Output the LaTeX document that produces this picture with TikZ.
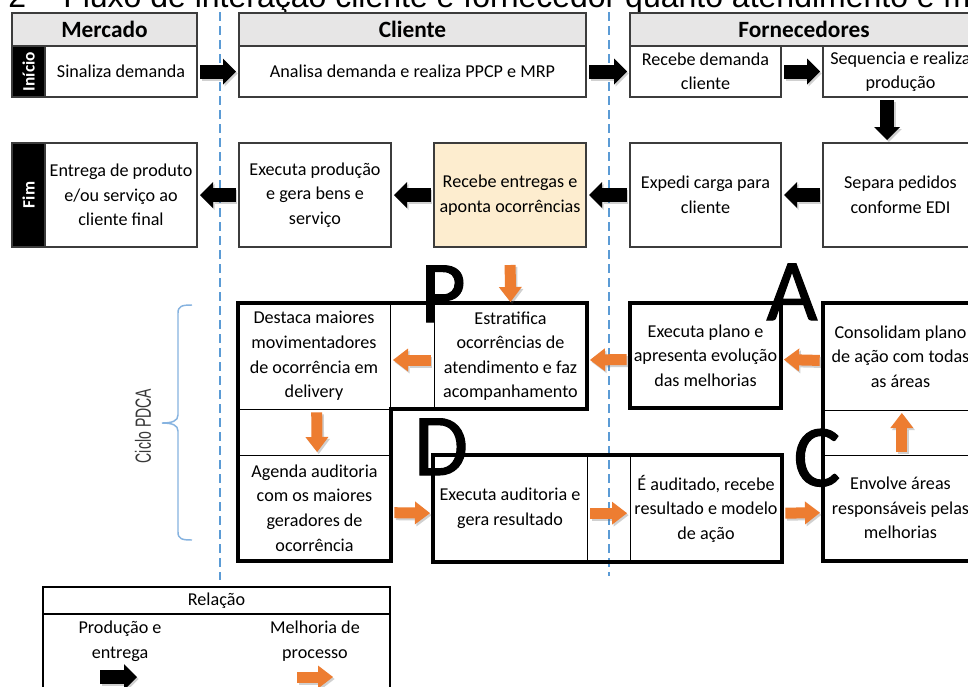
\documentclass[tikz,border=0pt]{standalone}
\usepackage{fontspec}
\setmainfont{Carlito}
\newfontfamily\arialfont{Liberation Sans}
\newfontfamily\bigfont[FakeBold=1.2]{Carlito}
\usetikzlibrary{arrows.meta}
\definecolor{hdrgray}{HTML}{E7E6E6}
\definecolor{paleyel}{HTML}{FDEDCF}
\definecolor{orng}{HTML}{ED7D31}
\definecolor{lblue}{HTML}{5B9BD5}
\definecolor{brblue}{HTML}{86B3E0}
\definecolor{edgegray}{HTML}{3C3C3C}
\newcommand\bodyfont{\fontsize{13.6}{18.4}\selectfont}
\newcommand\bx[7][]{\node[box,#1,minimum width={(#5-#3)*0.75pt},minimum height={(#6-#4)*0.75pt}] (#2) at ({(#3+#5)/2},{(#4+#6)/2}) {#7};}
\newcommand\arr[3]{\draw[#1,shd] #2 -- #3; \draw[#1] #2 -- #3;}
\begin{document}
\begin{tikzpicture}[x=0.75pt,y=-0.75pt,
  box/.style={draw=edgegray, line width=0.9pt, inner sep=0pt, outer sep=0pt, align=center, font=\bodyfont},
  hdr/.style={fill=hdrgray, font=\fontsize{17.5}{20}\selectfont\bfseries},
  thk/.style={draw=black, line width=2.4pt, line join=miter},
  blk/.style={draw=black, line width=10.5pt, -{Triangle[length=9.75pt,width=19.5pt,line width=0pt]}, shorten <=2.5pt, shorten >=2.25pt},
  oarr/.style={draw=orng, line width=8.25pt, -{Triangle[length=11.25pt,width=17.25pt,line width=0pt]}, shorten <=2.5pt, shorten >=2.25pt},
  shd/.style={draw=black!60, opacity=0.3, transform canvas={shift={(1.2pt,-1.5pt)}}},
  dline/.style={draw=lblue, line width=1.5pt, dash pattern=on 6.75pt off 3.75pt},
  big/.style={font=\bigfont\fontsize{66}{66}\selectfont, inner sep=0pt, anchor=base, text height=31pt, text depth=0pt},
  vlab/.style={rotate=90, text=white, font=\fontsize{13}{14}\selectfont\bfseries, inner sep=0pt},
]
\useasboundingbox (0,0) rectangle (968,686);
\clip (0,0) rectangle (968,686);
\fill[white] (0,0) rectangle (968,686);

% title (cut at top)
\node[anchor=base west, inner sep=0pt, font=\arialfont\fontsize{24}{24}\selectfont] (tnum) at (8,7) {2};
\node[anchor=base west, inner sep=0pt, font=\arialfont\fontsize{24}{24}\selectfont] (ttl) at (63,7) {Fluxo de interação cliente e fornecedor quanto atendimento e m};

% lane separators
\draw[dline] (220,12) -- (220,580);
\draw[dline] (609,12) -- (609,576);

% row 1
\bx[hdr]{hm}{12}{13}{197}{46}{Mercado}
\bx[fill=black]{ini}{12}{46}{45}{97}{}
\node[vlab] (inil) at (ini) {Início};
\bx{sin}{45}{46}{197}{97}{Sinaliza demanda}
\bx[hdr]{hc}{239}{13}{586}{46}{Cliente}
\bx{ana}{239}{46}{586}{97}{Analisa demanda e realiza PPCP e MRP}
\bx[hdr]{hf}{630}{13}{978}{46}{Fornecedores}
\bx{rdc}{630}{46}{781}{97}{Recebe demanda\\cliente}
\bx{seq}{823}{46}{978}{97}{Sequencia e realiza\\produção}

% row 2
\bx[fill=black]{fim}{12}{143}{45}{247}{}
\node[vlab] (fiml) at (fim) {Fim};
\bx{ent}{45}{143}{197}{247}{Entrega de produto\\e/ou serviço ao\\cliente final}
\bx{exe}{239}{143}{391}{247}{Executa produção\\e gera bens e\\serviço}
\bx[fill=paleyel]{rec}{434}{143}{586}{247}{Recebe entregas e\\aponta ocorrências}
\bx{exp}{630}{143}{781}{247}{Expedi carga para\\cliente}
\bx{sep}{823}{143}{978}{247}{Separa pedidos\\conforme EDI}

% black arrows
\arr{blk}{(sin)}{(ana)}
\arr{blk}{(ana)}{(rdc)}
\arr{blk}{(rdc)}{(seq)}
\arr{blk}{([xshift=-10pt]seq.south)}{([xshift=-10pt]sep.north)}
\arr{blk}{(sep)}{(exp)}
\arr{blk}{(exp)}{(rec)}
\arr{blk}{(rec)}{(exe)}
\arr{blk}{(exe)}{(ent)}

% PDCA boxes
\bx[draw=black, line width=0.75pt]{des}{238}{303}{390}{409}{Destaca maiores\\movimentadores\\de ocorrência em\\delivery}
\bx[draw=black, line width=0.75pt]{est}{434}{303}{587}{409}{Estratifica\\ocorrências de\\atendimento e faz\\acompanhamento}
\bx[draw=black, line width=0.75pt]{age}{238}{455}{391}{561}{Agenda auditoria\\com os maiores\\geradores de\\ocorrência}
\bx[draw=black, line width=0.75pt]{eau}{433}{455}{587}{562}{Executa auditoria e\\gera resultado}
\bx[draw=black, line width=0.75pt]{ead}{630}{455}{782}{562}{É auditado, recebe\\resultado e modelo\\de ação}
\bx[draw=black, line width=0.75pt]{epl}{630}{303}{781}{408}{Executa plano e\\apresenta evolução\\das melhorias}
\bx[draw=black, line width=0.75pt]{con}{823}{303}{978}{410}{Consolidam plano\\de ação com todas\\as áreas}
\bx[draw=black, line width=0.75pt]{env}{823}{455}{978}{561}{Envolve áreas\\responsáveis pelas\\melhorias}

% thick outlines
\draw[thk] (238,303) -- (587,303) -- (587,409) -- (391,409) -- (391,561) -- (238,561) -- cycle;
\draw[thk] (433,455) rectangle (782,562);
\draw[thk] (630,303) rectangle (781,408);
\draw[thk] (985,303) -- (823,303) -- (823,561) -- (985,561);

% orange arrows
\arr{oarr, shorten <=13.5pt, shorten >=0.75pt}{(rec.south)}{(est.north)}
\arr{oarr}{([yshift=-3pt]est.west)}{([yshift=-3pt]des.east)}
\arr{oarr}{([yshift=-3pt]epl.west)}{([yshift=-3pt]est.east)}
\arr{oarr}{([yshift=-3pt]con.west)}{([yshift=-3pt]epl.east)}
\arr{oarr}{([xshift=2pt]des.south)}{([xshift=2pt]age.north)}
\arr{oarr}{([yshift=-3.5pt]age.east)}{([yshift=-3.5pt]eau.west)}
\arr{oarr}{([yshift=-3.5pt]eau.east)}{([yshift=-3.5pt]ead.west)}
\arr{oarr}{([yshift=-3.5pt]ead.east)}{([yshift=-3.5pt]env.west)}
\arr{oarr}{([xshift=1pt]env.north)}{([xshift=1pt]con.south)}

% PDCA letters
\node[big] (lp) at (443,322) {P};
\node[big] (ld) at (441,475) {D};
\node[big] (la) at (792,320) {A};
\node[big] (lc) at (817,486) {C};

% brace and label
\draw[brblue, line width=1.1pt] (192,305) .. controls (182,305) and (178,306) .. (178,313) -- (178,415) .. controls (178,421) and (172,423) .. (162,423) .. controls (172,423) and (178,425) .. (178,431) -- (178,532) .. controls (178,539) and (182,540) .. (192,540);
\node[rotate=90, text=black!78, font=\arialfont\fontsize{16.5}{18}\selectfont, inner sep=0pt] (cyc) at (143,426) {\scalebox{0.64}[1]{Ciclo PDCA}};

% legend
\bx[draw=black, line width=1.5pt]{leg}{43}{587}{390}{720}{}
\bx[draw=black, line width=1.5pt]{legh}{43}{587}{390}{614}{Relação}
\node[font=\bodyfont, align=center, inner sep=0pt] (lgp) at (120,641) {Produção e\\entrega};
\node[font=\bodyfont, align=center, inner sep=0pt] (lgm) at (315,641) {Melhoria de\\processo};
\coordinate (kb1) at (100,677);
\coordinate (kb2) at (137,677);
\coordinate (ko1) at (297,677);
\coordinate (ko2) at (333,677);
\arr{blk, shorten <=0pt, shorten >=0pt}{(kb1)}{(kb2)}
\arr{oarr, shorten <=0pt, shorten >=0pt}{(ko1)}{(ko2)}
\end{tikzpicture}
\end{document}
